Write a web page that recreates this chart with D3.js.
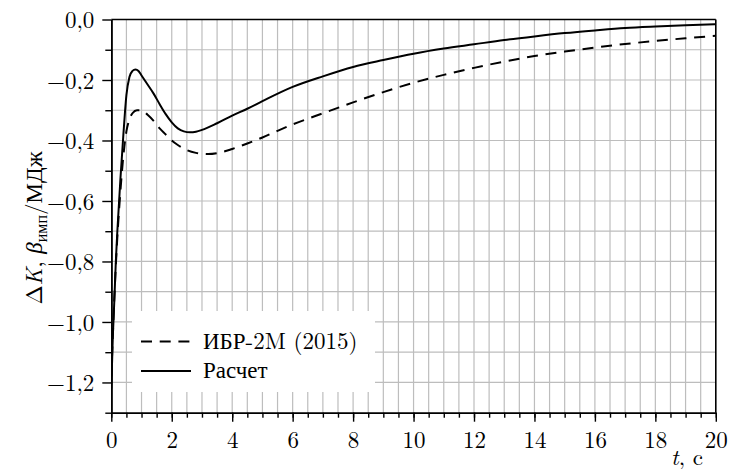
<!DOCTYPE html>
<html>
<head>
<meta charset="utf-8">
<script src="https://cdn.jsdelivr.net/npm/d3@7"></script>
<style>
  html, body { margin: 0; padding: 0; background: #fff; }
  svg { display: block; }
</style>
</head>
<body>
<svg id="chart" width="731" height="472"></svg>
<script>
// Time points (s) and reactivity response (β_имп/МДж) for the measured curve
const measuredT = [0, 0.1, 0.2, 0.3, 0.4, 0.5, 0.6, 0.7, 0.85, 1.0, 1.2, 1.4, 1.6, 1.8, 2.0, 2.2, 2.5, 2.8, 3.2, 3.6, 4.0, 4.5, 5.0, 5.5, 6, 7, 8, 9, 10, 11, 12, 13, 14, 15, 16, 17, 18, 19, 20];
const measuredV = [-1.18, -0.92, -0.72, -0.57, -0.45, -0.37, -0.33, -0.31, -0.30, -0.30, -0.315, -0.335, -0.36, -0.38, -0.40, -0.415, -0.432, -0.441, -0.445, -0.44, -0.428, -0.41, -0.39, -0.368, -0.347, -0.31, -0.274, -0.24, -0.209, -0.183, -0.16, -0.139, -0.121, -0.106, -0.093, -0.081, -0.071, -0.062, -0.054];

// Calculated curve
const calcT = [0, 0.05, 0.1, 0.15, 0.2, 0.3, 0.4, 0.5, 0.6, 0.7, 0.8, 0.9, 1.0, 1.2, 1.4, 1.6, 1.8, 2.0, 2.2, 2.4, 2.6, 2.8, 3.0, 3.5, 4.0, 4.5, 5, 6, 7, 8, 9, 10, 11, 12, 13, 14, 15, 16, 17, 18, 19, 20];
const calcV = [-1.22, -1.05, -0.93, -0.80, -0.70, -0.53, -0.38, -0.25, -0.19, -0.17, -0.165, -0.17, -0.185, -0.215, -0.245, -0.28, -0.313, -0.34, -0.36, -0.37, -0.373, -0.371, -0.365, -0.343, -0.318, -0.295, -0.27, -0.223, -0.188, -0.157, -0.134, -0.113, -0.096, -0.082, -0.068, -0.056, -0.045, -0.036, -0.028, -0.023, -0.019, -0.016];

// Axis ticks
const xMajorTicks = [0, 2, 4, 6, 8, 10, 12, 14, 16, 18, 20];
const xMinorTicks = d3.range(0, 20.01, 0.5);
const yMajorTicks = [-1.2, -1.0, -0.8, -0.6, -0.4, -0.2, 0.0];
const yMinorTicks = [-1.3, -1.1, -0.9, -0.7, -0.5, -0.3, -0.1];

const legendLabels = ["ИБР-2M (2015)", "Расчет"];

const FONT = "'Latin Modern Roman', 'Liberation Serif', serif";

const svg = d3.select("#chart");
const pLeft = 111.3, pRight = 715.8, pTop = 19.5, pBottom = 412.7;

const x = d3.scaleLinear().domain([0, 20]).range([pLeft, pRight]);
const y = d3.scaleLinear().domain([-1.3, 0]).range([pBottom, pTop]);

const ru = d3.formatLocale({ decimal: ",", thousands: "\u00a0", grouping: [3], currency: ["", ""], minus: "\u2212" });
const fmtY = ru.format(".1f");
const fmtX = ru.format("d");

// grid
const grid = svg.append("g").attr("stroke", "#bdbdbd").attr("stroke-width", 1.2);
grid.selectAll("line.v").data(d3.range(0.5, 20, 0.5)).join("line").attr("class", "v")
  .attr("x1", d => x(d)).attr("x2", d => x(d)).attr("y1", pTop).attr("y2", pBottom);
grid.selectAll("line.h").data(d3.range(-1.2, -0.05, 0.1)).join("line").attr("class", "h")
  .attr("y1", d => y(d)).attr("y2", d => y(d)).attr("x1", pLeft).attr("x2", pRight);

// legend background hides the grid beneath it
svg.append("rect").attr("x", 132).attr("y", 311).attr("width", 243).attr("height", 81).attr("fill", "#fff");

// curves
svg.append("clipPath").attr("id", "plotClip").append("rect")
  .attr("x", pLeft).attr("y", pTop).attr("width", pRight - pLeft).attr("height", pBottom - pTop);

const line = d3.line().x(d => x(d[0])).y(d => y(d[1])).curve(d3.curveMonotoneX);
const curves = svg.append("g").attr("clip-path", "url(#plotClip)").attr("fill", "none").attr("stroke", "#000").attr("stroke-width", 2);
curves.append("path").attr("d", line(measuredT.map((t, i) => [t, measuredV[i]])))
  .attr("stroke-dasharray", "11,7.7");
curves.append("path").attr("d", line(calcT.map((t, i) => [t, calcV[i]])));

// axes
function styleAxis(g) {
  g.select(".domain").attr("stroke", "#000").attr("stroke-width", 1.6);
  g.selectAll(".tick line").attr("stroke", "#000").attr("stroke-width", 1.4);
  g.selectAll("text").style("font-family", FONT).style("font-size", "23px").attr("fill", "#000");
}

svg.append("g").attr("transform", `translate(0,${pBottom})`)
  .call(d3.axisBottom(x).tickValues(xMinorTicks).tickSize(5).tickFormat("").tickSizeOuter(0))
  .call(styleAxis);
const xAx = svg.append("g").attr("transform", `translate(0,${pBottom})`)
  .call(d3.axisBottom(x).tickValues(xMajorTicks).tickSize(9).tickPadding(4).tickFormat(fmtX).tickSizeOuter(0))
  .call(styleAxis);
xAx.selectAll("text").attr("dy", null).attr("y", 35);

svg.append("g").attr("transform", `translate(${pLeft},0)`)
  .call(d3.axisLeft(y).tickValues(yMinorTicks).tickSize(6).tickFormat("").tickSizeOuter(0))
  .call(styleAxis);
const yAx = svg.append("g").attr("transform", `translate(${pLeft},0)`)
  .call(d3.axisLeft(y).tickValues(yMajorTicks).tickSize(9).tickFormat(fmtY).tickSizeOuter(0))
  .call(styleAxis);
yAx.selectAll("text").attr("x", -17).attr("dy", "0.36em");

// frame: top and right edges
svg.append("line").attr("x1", pLeft).attr("x2", pRight).attr("y1", pTop).attr("y2", pTop).attr("stroke", "#000").attr("stroke-width", 1.6);
svg.append("line").attr("x1", pRight).attr("x2", pRight).attr("y1", pTop).attr("y2", pBottom).attr("stroke", "#000").attr("stroke-width", 1.6);

// legend entries
const leg = svg.append("g");
leg.append("line").attr("x1", 141).attr("x2", 191).attr("y1", 341.5).attr("y2", 341.5)
  .attr("stroke", "#000").attr("stroke-width", 2).attr("stroke-dasharray", "11,7.7");
leg.append("text").attr("x", 203).attr("y", 349).text(legendLabels[0]);
leg.append("line").attr("x1", 141).attr("x2", 191).attr("y1", 371).attr("y2", 371)
  .attr("stroke", "#000").attr("stroke-width", 2);
leg.append("text").attr("x", 203).attr("y", 378).text(legendLabels[1]);
leg.selectAll("text").style("font-family", FONT).style("font-size", "23px");

// axis titles
const xt = svg.append("text").attr("x", 703).attr("y", 465).attr("text-anchor", "end")
  .style("font-family", FONT).style("font-size", "23px");
xt.append("tspan").style("font-style", "italic").text("t");
xt.append("tspan").text(", c");

const yt = svg.append("text").attr("transform", "translate(42,228) rotate(-90)")
  .attr("text-anchor", "middle").style("font-family", FONT).style("font-size", "23px");
yt.append("tspan").text("Δ");
yt.append("tspan").style("font-style", "italic").text("K");
yt.append("tspan").text(", ");
yt.append("tspan").style("font-style", "italic").text("β");
yt.append("tspan").style("font-size", "16px").attr("dy", 5).text("имп");
yt.append("tspan").attr("dy", -5).text("/МДж");
</script>
</body>
</html>
